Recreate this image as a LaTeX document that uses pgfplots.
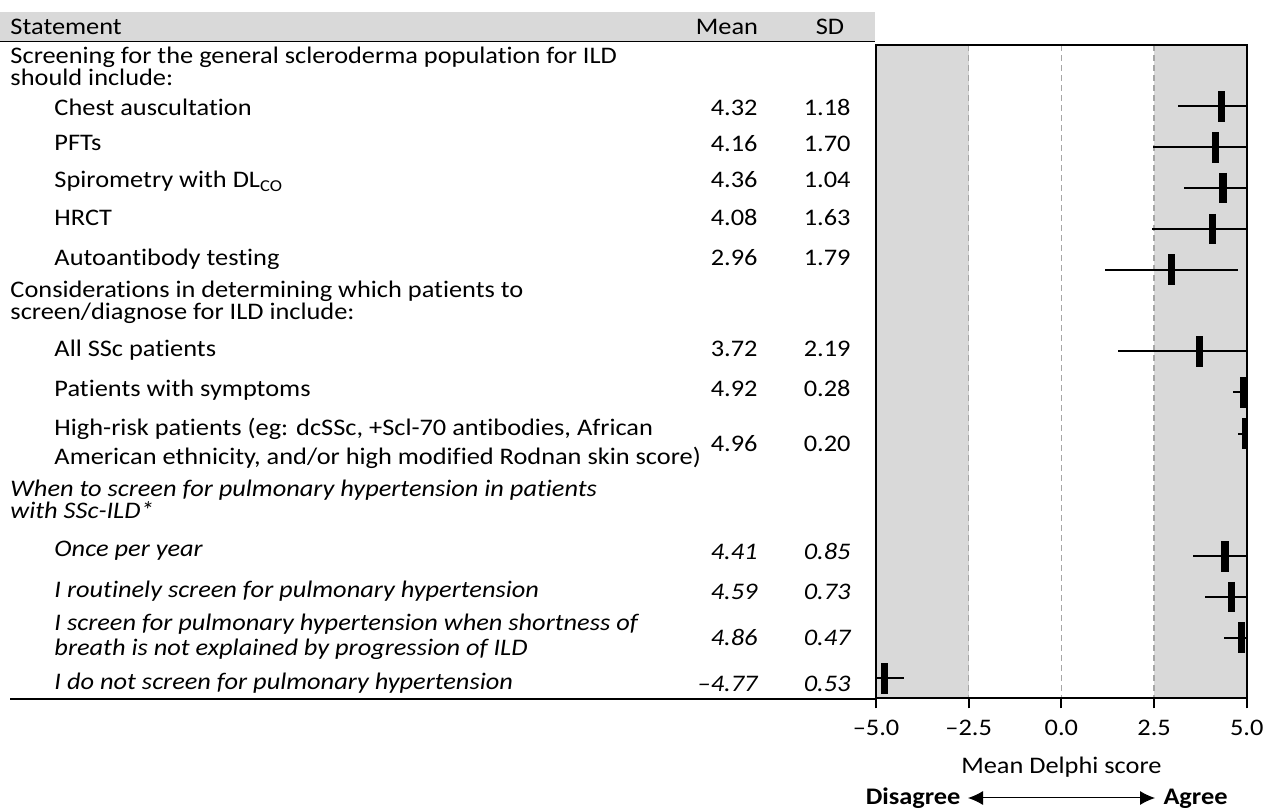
\documentclass[border=0pt]{standalone}
\usepackage{fontspec}
\setmainfont{Carlito}[FakeStretch=1.11, Ligatures=NoCommon]
\usepackage{pgfplots}
\usepackage{pgfplotstable}
\pgfplotsset{compat=1.18}
\usetikzlibrary{arrows.meta}
\definecolor{bandgray}{HTML}{D9D9D9}
\definecolor{dashgray}{HTML}{A6A6A6}
\newcommand{\tf}{\fontsize{9.5pt}{11pt}\selectfont}

% y = row position (layout, negative = down), mean, sd
\pgfplotstableread{
y mean sd
-106.3 4.32 1.18
-147.3 4.16 1.70
-188.0 4.36 1.04
-229.0 4.08 1.63
-269.7 2.96 1.79
-351.3 3.72 2.19
-392.3 4.92 0.28
-433.7 4.96 0.20
-556.3 4.41 0.85
-597.0 4.59 0.73
-637.7 4.86 0.47
-678.3 -4.77 0.53
}\data

\begin{document}
\begin{tikzpicture}[x=0.4pt,y=-0.4pt]
\path[use as bounding box] (0,0) rectangle (1266,810);
\fill[bandgray] (0,12) rectangle (875,41.5);
\draw[line width=0.6pt] (0,41.5) -- (875,41.5);
\draw[line width=0.8pt] (10,699) -- (876,699);

\begin{axis}[
  at={(350.4pt,-279.32pt)}, anchor=south west,
  scale only axis, width=148.3pt, height=261.3pt,
  xmin=-5, xmax=5, ymin=-698.3, ymax=-45,
  axis on top,
  clip marker paths=true,
  xtick={-5,-2.5,0,2.5,5},
  xticklabels={–5.0,–2.5,0.0,2.5,5.0},
  ytick=\empty,
  xtick pos=bottom,
  tick align=outside,
  major tick length=4pt,
  axis line style={line width=0.8pt},
  xtick style={black, line width=0.8pt},
  tick label style={font=\tf},
  xticklabel style={yshift=-1pt},
  xlabel={Mean Delphi score},
  label style={font=\tf},
  xlabel style={yshift=-2pt},
]
\addplot[fill=bandgray, draw=none] coordinates {(-5,-45) (-2.5,-45) (-2.5,-698.3) (-5,-698.3)} -- cycle;
\addplot[fill=bandgray, draw=none] coordinates {(2.5,-45) (5,-45) (5,-698.3) (2.5,-698.3)} -- cycle;
\addplot[dashgray, line width=0.6pt, dash pattern=on 2.4pt off 1.6pt] coordinates {(-2.5,-45) (-2.5,-698.3)};
\addplot[dashgray, line width=0.6pt, dash pattern=on 2.4pt off 1.6pt] coordinates {(0,-45) (0,-698.3)};
\addplot[dashgray, line width=0.6pt, dash pattern=on 2.4pt off 1.6pt] coordinates {(2.5,-45) (2.5,-698.3)};
\addplot[black, only marks, mark=|, mark size=6.1pt, mark options={line width=2.9pt},
  error bars/.cd, x dir=both, x explicit, error mark=none,
  error bar style={line width=0.8pt, black}]
  table[x=mean, y=y, x error=sd] {\data};
\end{axis}

\begin{scope}[every node/.style={font=\tf, inner sep=0pt}]
% header
\node[anchor=base west] at (10,35) {Statement};
\node[anchor=base] at (727,35) {Mean};
\node[anchor=base] at (830,35) {SD};
% group 1
\node[anchor=base west] at (10,64) {Screening for the general scleroderma population for ILD};
\node[anchor=base west] at (10,86) {should include:};
\node[anchor=base west] at (54,116) {Chest auscultation};
\node[anchor=base west] at (54,151) {PFTs};
\node[anchor=base west] at (54,188) {Spirometry with DL\textsubscript{CO}};
\node[anchor=base west] at (54,226) {HRCT};
\node[anchor=base west] at (54,266) {Autoantibody testing};
\node[anchor=base east] at (758,116) {4.32}; \node[anchor=base east] at (851,116) {1.18};
\node[anchor=base east] at (758,152) {4.16}; \node[anchor=base east] at (851,152) {1.70};
\node[anchor=base east] at (758,188) {4.36}; \node[anchor=base east] at (851,188) {1.04};
\node[anchor=base east] at (758,226) {4.08}; \node[anchor=base east] at (851,226) {1.63};
\node[anchor=base east] at (758,266) {2.96}; \node[anchor=base east] at (851,266) {1.79};
% group 2
\node[anchor=base west] at (10,298) {Considerations in determining which patients to};
\node[anchor=base west] at (10,320) {screen/diagnose for ILD include:};
\node[anchor=base west] at (54,357) {All SSc patients};
\node[anchor=base west] at (54,397) {Patients with symptoms};
\node[anchor=base west] at (54,436) {High-risk patients (eg: dcSSc, +Scl-70 antibodies, African};
\node[anchor=base west] at (54,465) {American ethnicity, and/or high modified Rodnan skin score)};
\node[anchor=base east] at (758,357) {3.72}; \node[anchor=base east] at (851,357) {2.19};
\node[anchor=base east] at (758,397) {4.92}; \node[anchor=base east] at (851,397) {0.28};
\node[anchor=base east] at (758,452) {4.96}; \node[anchor=base east] at (851,452) {0.20};
% group 3 (italic)
\begin{scope}[every node/.append style={font=\tf\itshape}]
\node[anchor=base west] at (10,497) {When to screen for pulmonary hypertension in patients};
\node[anchor=base west] at (10,519) {with SSc-ILD*};
\node[anchor=base west] at (54,557) {Once per year};
\node[anchor=base west] at (54,598) {I routinely screen for pulmonary hypertension};
\node[anchor=base west] at (54,631) {I screen for pulmonary hypertension when shortness of};
\node[anchor=base west] at (54,656) {breath is not explained by progression of ILD};
\node[anchor=base west] at (54,690) {I do not screen for pulmonary hypertension};
\node[anchor=base east] at (758,560) {4.41}; \node[anchor=base east] at (851,560) {0.85};
\node[anchor=base east] at (758,600) {4.59}; \node[anchor=base east] at (851,600) {0.73};
\node[anchor=base east] at (758,646) {4.86}; \node[anchor=base east] at (851,646) {0.47};
\node[anchor=base east] at (758,692) {–4.77}; \node[anchor=base east] at (851,692) {0.53};
\end{scope}
% agree / disagree
\node[anchor=base east, font=\tf\bfseries] at (961,805) {Disagree};
\node[anchor=base west, font=\tf\bfseries] at (1163,805) {Agree};
\end{scope}
\draw[{Latex[length=6pt,width=5.6pt]}-{Latex[length=6pt,width=5.6pt]}, line width=0.4pt] (968,798) -- (1155,798);
\end{tikzpicture}
\end{document}
